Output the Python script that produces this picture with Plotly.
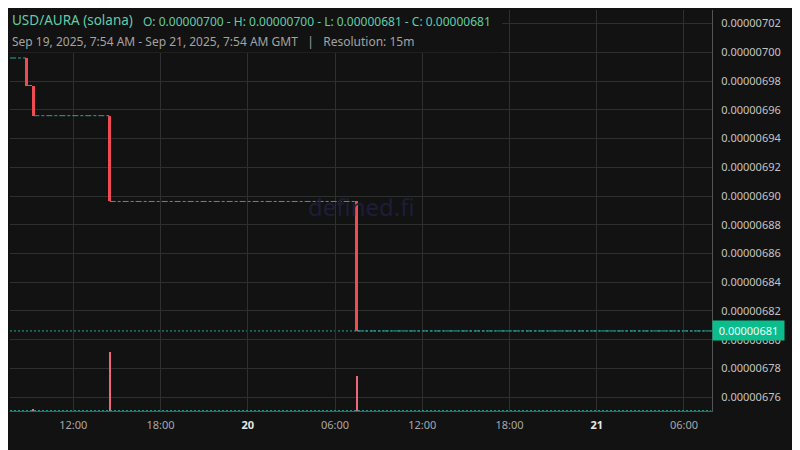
import plotly.graph_objects as go

# 15m candles where the price moved (everything else is a flat doji)
drop_times = ["2025-09-19 08:45", "2025-09-19 09:15", "2025-09-19 14:30", "2025-09-20 07:30"]
drop_open = [6.99603e-6, 6.97690e-6, 6.95590e-6, 6.89620e-6]
drop_close = [6.97690e-6, 6.95590e-6, 6.89620e-6, 6.80610e-6]

# volume of the same candles
vol_times = ["2025-09-19 09:15", "2025-09-19 14:30", "2025-09-20 07:30"]
vol_values = [0.05, 1.45, 0.84]

# first / last candle edges of the window
first_edge = "2025-09-19 07:39"
last_edge = "2025-09-21 07:51"
x_range = ["2025-09-19 07:38:40", "2025-09-21 07:55:40"]
y_range = [6.75039e-6, 7.02944e-6]
vol_range = [-0.01, 9.86]

tick_vals = ["2025-09-19 12:00", "2025-09-19 18:00", "2025-09-20 00:00", "2025-09-20 06:00",
             "2025-09-20 12:00", "2025-09-20 18:00", "2025-09-21 00:00", "2025-09-21 06:00"]
tick_text = ["12:00", "18:00", "<span style='color:#e6e6e6'><b>20</b></span>", "06:00",
             "12:00", "18:00", "<span style='color:#e6e6e6'><b>21</b></span>", "06:00"]

pair_title = "USD/AURA (solana)"
ohlc_text = "O: 0.00000700 - H: 0.00000700 - L: 0.00000681 - C: 0.00000681"
range_text = "Sep 19, 2025, 7:54 AM - Sep 21, 2025, 7:54 AM GMT &nbsp; | &nbsp; Resolution: 15m"
last_label = "0.00000681"

BG = "#121212"
GRID = "#2f2f2f"
TEAL = "#26a69a"
RED = "#ef4b52"
FONT = "Noto Sans"


def main():
    fig = go.Figure()

    # flat stretches between the moves, drawn as thin teal dojis
    starts = [first_edge] + drop_times
    ends = drop_times + [last_edge]
    levels = [drop_open[0]] + drop_close
    for x0, x1, lvl in zip(starts, ends, levels):
        fig.add_trace(go.Scatter(x=[x0, x1], y=[lvl, lvl], mode="lines",
                                 line=dict(color=TEAL, width=1, dash="6px,2px,3px,2px"),
                                 hoverinfo="skip", showlegend=False))

    # volume (overlaid, bottom of the pane)
    fig.add_trace(go.Scatter(x=[first_edge, last_edge], y=[0, 0], yaxis="y2", mode="lines",
                             line=dict(color=TEAL, width=1, dash="2px,2px"),
                             hoverinfo="skip", showlegend=False))
    fig.add_trace(go.Bar(x=vol_times, y=vol_values, yaxis="y2", width=495000,
                         marker=dict(color="#e9687a", line_width=0), showlegend=False))

    # red candles
    body = [o - c for o, c in zip(drop_open, drop_close)]
    fig.add_trace(go.Bar(x=drop_times, y=body, base=drop_close, width=720000,
                         marker=dict(color=RED, line_width=0), showlegend=False))

    # last price line
    fig.add_shape(type="line", xref="paper", x0=0, x1=1, yref="y",
                  y0=drop_close[-1], y1=drop_close[-1], layer="below",
                  line=dict(color=TEAL, width=1, dash="2px,2px"))

    # header box hides the grid behind the title
    fig.add_shape(type="rect", xref="paper", yref="paper", x0=-0.02, x1=0.701,
                  y0=0.894, y1=1.03, fillcolor=BG, line_width=0, layer="above")

    fig.add_annotation(text=pair_title, xref="paper", yref="paper", x=0.0, y=0.974,
                       xanchor="left", yanchor="middle", showarrow=False,
                       font=dict(family=FONT, size=13.5, color="#62cca8"))
    fig.add_annotation(text=ohlc_text, xref="paper", yref="paper", x=0.1865, y=0.972,
                       xanchor="left", yanchor="middle", showarrow=False,
                       font=dict(family=FONT, size=12, color="#62cca8"))
    fig.add_annotation(text=range_text, xref="paper", yref="paper", x=0.0, y=0.922,
                       xanchor="left", yanchor="middle", showarrow=False,
                       font=dict(family=FONT, size=12, color="#a3a3a3"))

    # watermark
    fig.add_annotation(text="defined.fi", xref="paper", yref="paper", x=0.5014, y=0.511,
                       showarrow=False, font=dict(family=FONT, size=24, color="#1d1d38"))

    # last price tag on the axis
    fig.add_annotation(text=last_label, xref="paper", yref="y", x=1, y=drop_close[-1],
                       xanchor="left", yanchor="middle", showarrow=False,
                       bgcolor="#0bbd8c", borderpad=2, width=67,
                       font=dict(family=FONT, size=11, color="#eafff7"))

    # page adds 8px around the figure, so margins are trimmed to match
    fig.update_layout(
        width=800, height=450, autosize=False,
        margin=dict(l=2, r=96, t=2, b=47),
        paper_bgcolor=BG, plot_bgcolor=BG,
        barmode="overlay", bargap=0, showlegend=False,
        font=dict(family=FONT, color="#c4c4c4"),
        xaxis=dict(type="date", range=x_range, tickvals=tick_vals, ticktext=tick_text,
                   showgrid=True, gridcolor=GRID, gridwidth=1, zeroline=False,
                   showline=True, linecolor="#555555", linewidth=1,
                   ticks="", ticklabelstandoff=4,
                   tickfont=dict(family=FONT, size=11, color="#a8a8a8")),
        yaxis=dict(range=y_range, side="right", dtick=2e-8, tick0=6.76e-6,
                   tickformat=".8f", showgrid=True, gridcolor=GRID, gridwidth=1,
                   zeroline=False, showline=True, linecolor="#555555", linewidth=1,
                   ticks="", ticklabelstandoff=6,
                   tickfont=dict(family=FONT, size=11, color="#c4c4c4")),
        yaxis2=dict(range=vol_range, overlaying="y", visible=False, showgrid=False),
    )

    fig.write_html("out.html")


if __name__ == "__main__":
    main()
